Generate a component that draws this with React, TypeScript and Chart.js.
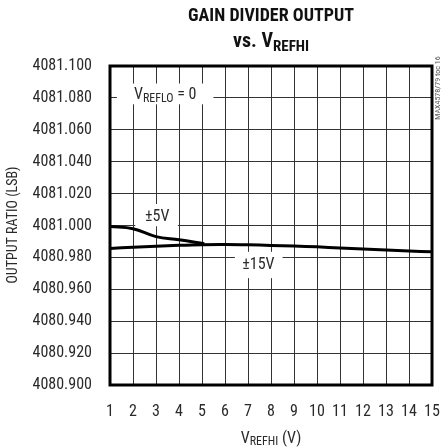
import React, { useEffect, useRef } from "react";
import { Chart, registerables } from "chart.js";

Chart.register(...registerables);

const FONT = '"Liberation Sans Narrow", "Arial Narrow", "Roboto Condensed", sans-serif';

const xTicks = [1, 2, 3, 4, 5, 6, 7, 8, 9, 10, 11, 12, 13, 14, 15];
const yMin = 4080.9;
const yMax = 4081.1;
const yStep = 0.02;

const vrefhi5 = [1, 2, 3, 4, 5.1];
const ratio5 = [4080.9994, 4080.998, 4080.993, 4080.991, 4080.9885];

const vrefhi15 = [1, 2, 3, 4, 5, 6, 7, 8, 9, 10, 11, 12, 13, 14, 15];
const ratio15 = [
  4080.9856, 4080.9864, 4080.987, 4080.9876, 4080.988, 4080.9881, 4080.9879,
  4080.9875, 4080.9871, 4080.9866, 4080.9859, 4080.9853, 4080.9846, 4080.984,
  4080.9835,
];

const TEXT = "#2a2a2a";

function drawSub(
  ctx: CanvasRenderingContext2D,
  main: string,
  sub: string,
  tail: string,
  cx: number,
  cy: number,
  size: number,
  subSize: number,
  bold: boolean,
  prefix = ""
) {
  const w = bold ? "bold " : "";
  ctx.textBaseline = "alphabetic";
  ctx.textAlign = "left";
  ctx.font = `${w}${size}px ${FONT}`;
  const wp = ctx.measureText(prefix).width;
  const wm = ctx.measureText(main).width;
  const wt = ctx.measureText(tail).width;
  ctx.font = `${w}${subSize}px ${FONT}`;
  const ws = ctx.measureText(sub).width;
  const total = wp + wm + ws + wt;
  let x = cx - total / 2;
  const base = cy + size * 0.35;
  ctx.font = `${w}${size}px ${FONT}`;
  ctx.fillText(prefix, x, base);
  x += wp;
  ctx.fillText(main, x, base);
  x += wm;
  ctx.font = `${w}${subSize}px ${FONT}`;
  ctx.fillText(sub, x, base + size * 0.18);
  x += ws;
  ctx.font = `${w}${size}px ${FONT}`;
  ctx.fillText(tail, x, base);
}

const decorPlugin = {
  id: "decor",
  beforeDatasetsDraw(chart: any) {
    const ctx = chart.ctx as CanvasRenderingContext2D;
    const xs = chart.scales.x;
    const ys = chart.scales.y;
    ctx.save();
    ctx.fillStyle = "#ffffff";
    const box = (x1: number, y1: number, x2: number, y2: number) => {
      const px1 = xs.getPixelForValue(x1);
      const px2 = xs.getPixelForValue(x2);
      const py1 = ys.getPixelForValue(y1);
      const py2 = ys.getPixelForValue(y2);
      ctx.fillRect(px1, py1, px2 - px1, py2 - py1);
    };
    box(1.3, 4081.089, 5.5, 4081.076);
    box(2.1, 4081.0135, 3.95, 4080.9995);
    box(6.43, 4080.9835, 8.5, 4080.967);
    ctx.fillStyle = TEXT;
    drawSub(ctx, "V", "REFLO", " = 0", xs.getPixelForValue(3.4), ys.getPixelForValue(4081.083), 16, 12, false);
    ctx.font = `16px ${FONT}`;
    ctx.textAlign = "center";
    ctx.textBaseline = "middle";
    ctx.fillText("\u00b15V", xs.getPixelForValue(3.05), ys.getPixelForValue(4081.0056));
    ctx.fillText("\u00b115V", xs.getPixelForValue(7.45), ys.getPixelForValue(4080.9752));
    ctx.restore();
  },
  afterDraw(chart: any) {
    const ctx = chart.ctx as CanvasRenderingContext2D;
    const a = chart.chartArea;
    ctx.save();
    ctx.strokeStyle = "#000";
    ctx.lineWidth = 3;
    ctx.strokeRect(a.left, a.top, a.right - a.left, a.bottom - a.top);
    ctx.fillStyle = "#111";
    ctx.font = `bold 18px ${FONT}`;
    ctx.textAlign = "center";
    ctx.textBaseline = "middle";
    ctx.fillText("GAIN DIVIDER OUTPUT", 271, 16);
    drawSub(ctx, "V", "REFHI", "", 271, 40, 20, 15, true, "vs. ");
    ctx.fillStyle = TEXT;
    drawSub(ctx, "V", "REFHI", " (V)", 271, 437, 16, 12, false);
    ctx.save();
    ctx.translate(13, 225);
    ctx.rotate(-Math.PI / 2);
    ctx.font = `14px ${FONT}`;
    ctx.textAlign = "center";
    ctx.textBaseline = "middle";
    ctx.fillText("OUTPUT RATIO (LSB)", 0, 0);
    ctx.restore();
    ctx.save();
    ctx.translate(438, 88);
    ctx.rotate(-Math.PI / 2);
    ctx.font = `8px ${FONT}`;
    ctx.fillStyle = "#555";
    ctx.textAlign = "center";
    ctx.textBaseline = "middle";
    ctx.fillText("MAX4578/79 toc 16", 0, 0);
    ctx.restore();
    ctx.restore();
  },
};

export default function App() {
  const ref = useRef<HTMLCanvasElement | null>(null);
  useEffect(() => {
    if (!ref.current) return;
    const chart = new Chart(ref.current, {
      type: "line",
      data: {
        datasets: [
          {
            label: "\u00b15V",
            data: vrefhi5.map((x, i) => ({ x, y: ratio5[i] })),
            borderColor: "#000",
            borderWidth: 3,
            pointRadius: 0,
            tension: 0.4,
            fill: false,
          },
          {
            label: "\u00b115V",
            data: vrefhi15.map((x, i) => ({ x, y: ratio15[i] })),
            borderColor: "#000",
            borderWidth: 3,
            pointRadius: 0,
            tension: 0.4,
            fill: false,
          },
        ],
      },
      plugins: [decorPlugin],
      options: {
        responsive: false,
        animation: false,
        events: [],
        layout: { padding: { top: 66, right: 11, left: 0, bottom: 0 } },
        plugins: { legend: { display: false }, tooltip: { enabled: false }, title: { display: false } },
        scales: {
          x: {
            type: "linear",
            min: xTicks[0],
            max: xTicks[xTicks.length - 1],
            afterBuildTicks: (s: any) => {
              s.ticks = xTicks.map((v) => ({ value: v }));
            },
            afterFit: (s: any) => {
              s.height = 63;
              s.paddingLeft = 0;
              s.paddingRight = 0;
            },
            grid: { color: "#333", lineWidth: 1, drawTicks: false },
            border: { display: false },
            ticks: {
              padding: 17,
              color: TEXT,
              font: { family: FONT, size: 16 },
              maxRotation: 0,
              autoSkip: false,
              callback: (v: any) => String(v),
            },
          },
          y: {
            type: "linear",
            min: yMin,
            max: yMax,
            afterBuildTicks: (s: any) => {
              const t = [];
              for (let i = 0; i <= 10; i++) t.push({ value: yMin + i * yStep });
              s.ticks = t;
            },
            afterFit: (s: any) => {
              s.width = 110;
              s.paddingTop = 0;
              s.paddingBottom = 0;
            },
            grid: { color: "#333", lineWidth: 1, drawTicks: false },
            border: { display: false },
            ticks: {
              padding: 18,
              color: TEXT,
              font: { family: FONT, size: 16 },
              autoSkip: false,
              callback: (v: any) => Number(v).toFixed(3),
            },
          },
        },
      },
    } as any);
    return () => chart.destroy();
  }, []);
  return (
    <div style={{ position: "fixed", left: 0, top: 0, width: 443, height: 448, background: "#fff" }}>
      <canvas ref={ref} width={443} height={448} style={{ display: "block" }} />
    </div>
  );
}
